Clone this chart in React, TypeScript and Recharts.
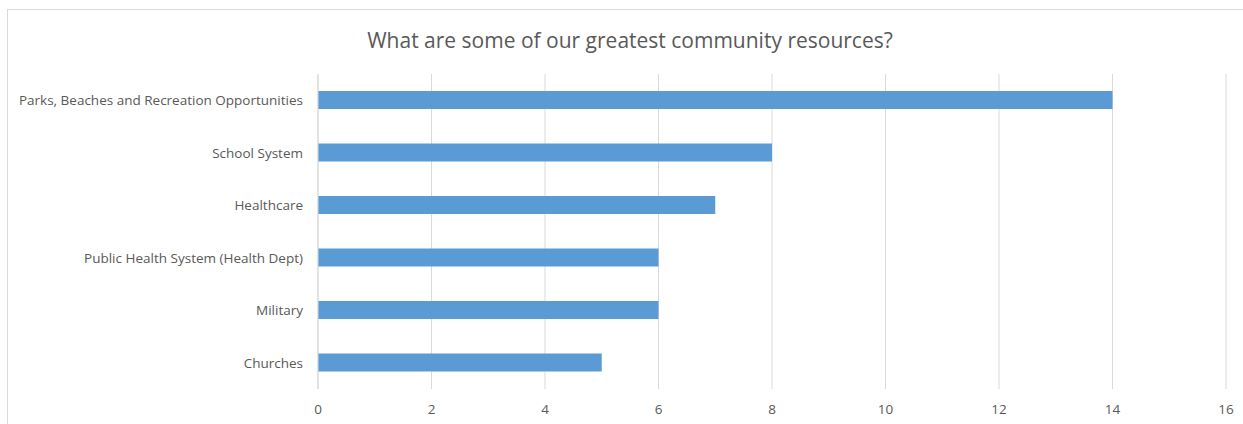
import React from "react";
import { BarChart, Bar, XAxis, YAxis, CartesianGrid } from "recharts";

const categories = [
  "Parks, Beaches and Recreation Opportunities",
  "School System",
  "Healthcare",
  "Public Health System (Health Dept)",
  "Military",
  "Churches",
];
const counts = [14, 8, 7, 6, 6, 5];
const xTicks = [0, 2, 4, 6, 8, 10, 12, 14, 16];
const title = "What are some of our greatest community resources?";

const data = categories.map((c, i) => ({ name: c, value: counts[i] }));

const FONT = "'Open Sans', Lato, sans-serif";
const GRAY = "#595959";

export default function App() {
  return (
    <div
      style={{
        position: "absolute",
        left: 7,
        top: 9,
        width: 1246,
        height: 420,
        border: "1px solid #d9d9d9",
        boxSizing: "border-box",
        background: "#fff",
        fontFamily: FONT,
      }}
    >
      <div
        style={{
          position: "absolute",
          left: 0,
          top: 18,
          width: 1244,
          textAlign: "center",
          fontSize: 21,
          lineHeight: "24px",
          color: GRAY,
        }}
      >
        {title}
      </div>
      <div style={{ position: "absolute", left: 0, top: 0 }}>
        <BarChart
          width={1244}
          height={418}
          data={data}
          layout="vertical"
          margin={{ top: 64, right: 26, bottom: 9, left: 0 }}
        >
          <CartesianGrid horizontal={false} vertical={true} stroke="#d9d9d9" />
          <XAxis
            type="number"
            domain={[0, 16]}
            ticks={xTicks}
            axisLine={false}
            tickLine={false}
            tickSize={6}
            tickMargin={9}
            height={30}
            tick={{ fill: GRAY, fontSize: 13.5, fontFamily: FONT }}
          />
          <YAxis
            type="category"
            dataKey="name"
            width={310}
            axisLine={{ stroke: "#d9d9d9" }}
            tickLine={false}
            tickSize={6}
            tickMargin={9}
            tick={{ fill: GRAY, fontSize: 13.5, fontFamily: FONT }}
          />
          <Bar dataKey="value" fill="#5b9bd5" barSize={18} isAnimationActive={false} />
        </BarChart>
      </div>
    </div>
  );
}
